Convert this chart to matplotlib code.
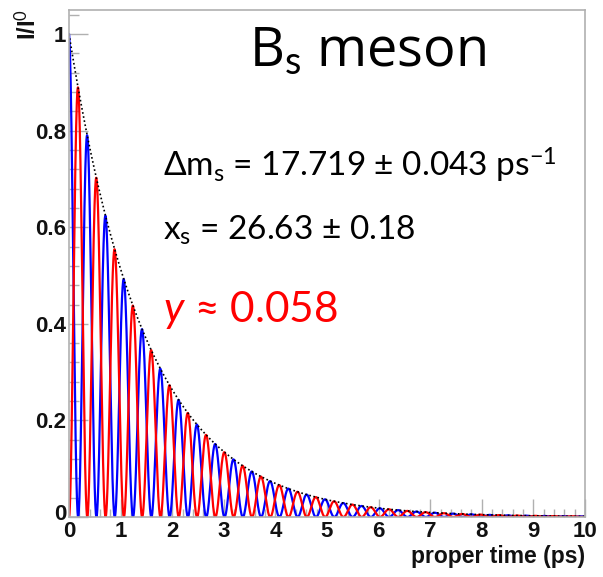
import numpy as np
import matplotlib
matplotlib.use('Agg')
from matplotlib import pyplot as plt
from matplotlib.ticker import MultipleLocator
import matplotlib.transforms as mtransforms

# values
delta_m = 17.719      # ps^-1
tau = 1.5             # ps, from the envelope
t_max = 10.0
x_ticks = list(range(0, 11))
y_ticks = [0, 0.2, 0.4, 0.6, 0.8, 1]
y_tick_labels = ['0', '0.2', '0.4', '0.6', '0.8', '1']

t = np.linspace(0, t_max, 6000)
envelope = np.exp(-t / tau)
unmixed = envelope * (1 + np.cos(delta_m * t)) / 2
mixed = envelope * (1 - np.cos(delta_m * t)) / 2

plt.rcParams['mathtext.fontset'] = 'custom'
plt.rcParams['mathtext.rm'] = 'Lato'
plt.rcParams['mathtext.it'] = 'Lato:italic'

fig = plt.figure(figsize=(6.03, 5.77), dpi=100)
ax = fig.add_axes([69 / 603, 1 - 517 / 577, (585 - 69) / 603, (517 - 10) / 577])

ax.plot(t, unmixed, color='#0000ff', lw=1.6)
ax.plot(t, mixed, color='#ff0000', lw=1.6)
ax.plot(t, envelope, color='black', lw=1.2, ls=(0, (1, 1.5)))

ax.set_xlim(0, t_max)
ax.set_ylim(0, 1.05)
ax.set_xticks(x_ticks)
ax.set_yticks(y_ticks)
ax.set_yticklabels(y_tick_labels)
ax.xaxis.set_minor_locator(MultipleLocator(0.2))
ax.yaxis.set_minor_locator(MultipleLocator(0.04))

for s in ax.spines.values():
    s.set_color('#b0b0b0')
    s.set_linewidth(1.2)
ax.tick_params(which='both', direction='in', color='#b0b0b0', width=1)
ax.tick_params(which='major', length=14, pad=2)
ax.tick_params(which='minor', length=7)
ax.tick_params(axis='x', which='major', length=13, pad=3)
ax.tick_params(axis='x', which='minor', length=6)
for lab in ax.get_xticklabels() + ax.get_yticklabels():
    lab.set_fontfamily('Liberation Sans')
    lab.set_fontweight('bold')
    lab.set_fontsize(16)
    lab.set_color('#111111')
# ROOT style: the two zeros sit corner to corner, nudge the y one up a little
zero_lab = ax.get_yticklabels()[0]
zero_lab.set_transform(zero_lab.get_transform() +
                       mtransforms.ScaledTranslation(0, 5 / 100, fig.dpi_scale_trans))

fig.text(585 / 603, 1 - 563 / 577, 'proper time (ps)', ha='right', va='baseline',
         family='Liberation Sans', weight='bold', fontsize=16.5, color='#111111')
fig.text(28 / 603, 1 - 9 / 577, 'I/I$^{0}$', rotation=90, ha='center', va='top',
         family='Liberation Sans', weight='bold', fontsize=17, color='#111111')

plt.rcParams['mathtext.rm'] = 'Open Sans'
fig.text(367 / 603, 1 - 67 / 577, r'B$_{\rm s}$ meson', ha='center', va='baseline',
         family='Open Sans', fontsize=39, color='black')
plt.rcParams['mathtext.rm'] = 'Lato'
fig.text(163 / 603, 1 - 177 / 577, r'$\Delta$m$_{\rm s}$ = 17.719 ± 0.043 ps$^{-1}$',
         ha='left', va='baseline', family='Lato', fontsize=24, color='black')
fig.text(163 / 603, 1 - 240 / 577, r'x$_{\rm s}$ = 26.63 ± 0.18',
         ha='left', va='baseline', family='Lato', fontsize=24, color='black')
fig.text(163 / 603, 1 - 322 / 577, r'$y$ ≈ 0.058', ha='left', va='baseline',
         family='Lato', fontsize=30.5, color='#ff0000')

fig.savefig('out.png', dpi=100)
